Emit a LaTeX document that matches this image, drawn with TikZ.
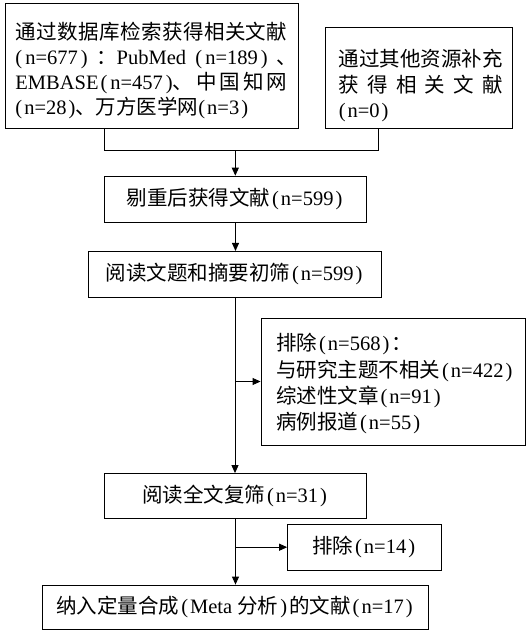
\documentclass[tikz,border=0pt]{standalone}
\usepackage{fontspec}
\setmainfont{Liberation Serif}
\newfontfamily\cjk{Noto Sans CJK SC}
\usetikzlibrary{arrows.meta}
\newcommand\zhs[1]{{\cjk #1}}
\newcommand\mylp{\kern2pt(\kern2pt}
\newcommand\myrp{\kern2pt)\kern2pt}
\def\sprA#1#2{#1\ifx\relax#2\else\hfill\expandafter\sprA\expandafter#2\fi}
\newcommand\spr[1]{\sprA#1\relax}
\begin{document}
\begin{tikzpicture}[x=1pt,y=-1pt,
  line width=0.9pt,
  box/.style={draw,line width=0.9pt,inner sep=0pt},
  txt/.style={inner sep=0pt,anchor=base west},
  arr/.style={-{Triangle[length=8pt,width=7pt]}},
  every node/.style={font=\fontsize{20.5pt}{25pt}\selectfont}]
\useasboundingbox (0,0) rectangle (528,631);
\fill[white] (0,0) rectangle (528,631);

% top boxes
\node[box,minimum width=293pt,minimum height=125.2pt] (b1) at (151.5,65.9) {};
\node[txt] (b1a) at (15,39.8) {\cjk\makebox[272pt][s]{\spr{通过数据库检索获得相关文献}}};
\node[txt] (b1b) at (15,64.8) {\makebox[272pt][s]{(\kern3pt n=677\kern3pt)\hfill\zhs{：}\kern-10pt\hfill PubMed\hfill(\kern3pt n=189\kern3pt)\hfill\zhs{、}\kern-10pt}};
\node[txt] (b1c) at (15,89.8) {\makebox[272pt][s]{EMBASE\kern2pt(\kern3pt n=457\kern3pt)\zhs{、}\hfill\zhs{中}\hfill\zhs{国}\hfill\zhs{知}\hfill\zhs{网}}};
\node[txt] (b1d) at (15,114.8) {(\kern2pt n=28\kern2pt)\zhs{、万方医学网}(\kern2pt n=3\kern2pt)};

\node[box,minimum width=186.8pt,minimum height=100.8pt] (b2) at (419.3,78.1) {};
\node[txt] (b2a) at (338.4,67) {\cjk\makebox[164pt][s]{\spr{通过其他资源补充}}};
\node[txt] (b2b) at (338.4,92.4) {\cjk\makebox[164pt][s]{\spr{获得相关文献}}};
\node[txt] (b2c) at (338.4,117.8) {(\kern2pt n=0\kern2pt)};

% main column
\node[box,minimum width=261.3pt,minimum height=46.1pt] (b3) at (235.5,199.2) {\zhs{剔重后获得文献}\mylp n=599\myrp};
\node[box,minimum width=292.7pt,minimum height=46pt] (b4) at (235,274.4) {\zhs{阅读文题和摘要初筛}\mylp n=599\myrp};

\node[box,minimum width=264pt,minimum height=127pt] (b5) at (393,381.5) {};
\node[txt] (b5a) at (275.7,350.8) {\zhs{排除}\mylp n=568\myrp\zhs{：}};
\node[txt] (b5b) at (275.7,377.1) {\zhs{与研究主题不相关}\mylp n=422\myrp};
\node[txt] (b5c) at (275.7,403.4) {\zhs{综述性文章}\mylp n=91\myrp};
\node[txt] (b5d) at (275.7,429.8) {\zhs{病例报道}\mylp n=55\myrp};

\node[box,minimum width=261.3pt,minimum height=44.7pt] (b6) at (235.5,495.9) {\zhs{阅读全文复筛}\mylp n=31\myrp};
\node[box,minimum width=154pt,minimum height=45.7pt] (b7) at (364.6,547.2) {\zhs{排除}\mylp n=14\myrp};
\node[box,minimum width=385.6pt,minimum height=44.5pt] (b8) at (235.5,607.3) {\zhs{纳入定量合成}\mylp Meta \zhs{分析}\myrp\zhs{的文献}\mylp n=17\myrp};

% connectors
\coordinate (j1) at (104.9,150.6);
\coordinate (j2) at (378,150.6);
\coordinate (j) at (235.3,150.6);
\draw (b1.south -| j1) -- (j1) -- (j2) -- (b2.south -| j2);
\draw[arr] (j) -- (j |- b3.north);
\draw[arr] (b3.south) -- (b3.south |- b4.north);
\draw[arr] (b4.south) -- (b4.south |- b6.north);
\draw[arr] (b4.south |- b5.west) -- (b5.west);
\draw[arr] (b6.south) -- (b6.south |- b8.north);
\draw[arr] (b6.south |- b7.west) -- (b7.west);
\end{tikzpicture}
\end{document}
